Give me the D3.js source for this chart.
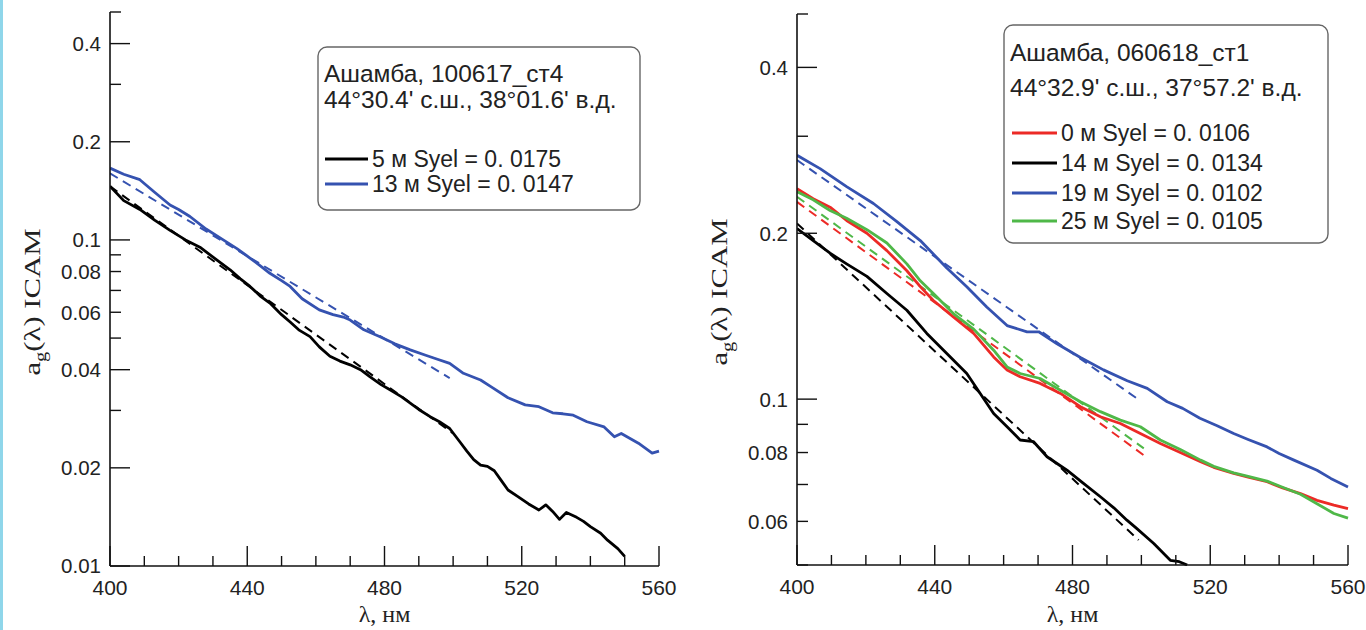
<!DOCTYPE html>
<html>
<head>
<meta charset="utf-8">
<script src="https://cdn.jsdelivr.net/npm/d3@7"></script>
<style>
  body { margin: 0; background: #fff; }
  svg text { font-family: "Liberation Sans", Arial, sans-serif; }
  .serif { font-family: "Liberation Serif", "Times New Roman", serif; }
</style>
</head>
<body>
<svg width="1366" height="630"></svg>
<script>
// --- data: [wavelength nm, a_g] ---
const left5m = [[400,0.146],[404,0.132],[408.7,0.124],[413,0.115],[417.5,0.107],[422,0.1],[426.2,0.095],[431,0.087],[435,0.081],[438,0.076],[440.8,0.072],[444,0.067],[446.6,0.064],[450,0.059],[452.5,0.056],[455,0.053],[458.3,0.0505],[461,0.047],[464.1,0.044],[467,0.0425],[470,0.0414],[473,0.040],[475.8,0.038],[479,0.036],[481.6,0.0347],[485,0.033],[487.5,0.0316],[490,0.0302],[493.3,0.0287],[496,0.0277],[499,0.0264],[502,0.024],[504,0.0225],[506,0.0212],[508,0.0204],[510,0.0202],[512,0.0196],[514,0.0183],[516,0.0171],[519,0.0163],[522,0.0155],[525,0.01485],[527,0.0154],[529,0.0147],[531,0.0139],[533,0.0146],[536,0.0141],[538,0.0137],[540,0.0132],[543,0.0126],[545,0.012],[548,0.0113],[550,0.0107]];
const left13m = [[400,0.166],[404,0.159],[408.7,0.153],[413,0.14],[417.5,0.128],[420,0.124],[423.3,0.118],[428,0.108],[433,0.1],[437,0.094],[440.8,0.088],[444,0.083],[446.6,0.079],[450,0.075],[452.5,0.072],[456,0.066],[461,0.061],[465,0.059],[468,0.058],[470,0.0568],[474,0.053],[478.7,0.0505],[483,0.048],[487.5,0.046],[492,0.0443],[495,0.0432],[499,0.0418],[503,0.039],[508,0.0372],[511,0.0355],[516,0.0328],[521,0.0312],[525,0.0308],[529,0.0295],[532,0.0293],[535,0.029],[539,0.0277],[544,0.0267],[547,0.0249],[549,0.0255],[554,0.0238],[558,0.0222],[560,0.0225]];
const leftFit5m = [[400,0.146],[500,0.0255]];
const leftFit13m = [[400,0.160],[499,0.0377]];

const right0m = [[400,0.241],[404.7,0.231],[409.6,0.223],[414.4,0.211],[420.3,0.200],[426.1,0.186],[431.9,0.171],[435.8,0.160],[439.6,0.151],[445.4,0.141],[451.3,0.1316],[457.1,0.1193],[461,0.1129],[464.8,0.1098],[470.6,0.1068],[476.5,0.1024],[482.3,0.0969],[488.1,0.0929],[493.9,0.0903],[499.7,0.0866],[505.5,0.0831],[511.3,0.0800],[517.2,0.077],[521,0.0752],[526.8,0.0733],[531,0.0722],[536.5,0.0708],[541,0.069],[546.2,0.0674],[551,0.0655],[555.9,0.0642],[560,0.0633]];
const right14m = [[400,0.204],[404.7,0.194],[409.6,0.184],[414.4,0.176],[420.3,0.167],[426.1,0.1555],[431.9,0.145],[437.7,0.1316],[443.5,0.121],[449.3,0.1113],[453.2,0.1024],[457.1,0.0942],[461,0.0891],[464.8,0.0843],[468.7,0.0837],[472.6,0.0786],[478.4,0.0743],[483,0.0705],[488.1,0.0665],[492,0.0635],[495.8,0.0603],[498.7,0.0582],[503.6,0.0547],[508.4,0.051],[511,0.0507],[513.3,0.05]];
const right19m = [[400,0.277],[406.7,0.262],[414.4,0.243],[422.2,0.2265],[429,0.21],[435.8,0.194],[443.5,0.173],[449.3,0.16],[455.1,0.147],[461,0.136],[466.8,0.1325],[470.2,0.1325],[475.5,0.126],[482.3,0.119],[489,0.113],[495.9,0.108],[501.7,0.1046],[507.5,0.0989],[512,0.0962],[517,0.0923],[522,0.0895],[526.8,0.0866],[531,0.0845],[536.5,0.0819],[540,0.0797],[544.3,0.0775],[551,0.0743],[555,0.0718],[560,0.0693]];
const right25m = [[400,0.238],[404.7,0.230],[409.6,0.220],[414.4,0.213],[420.3,0.203],[426.1,0.192],[431.9,0.176],[435.8,0.164],[439.6,0.1555],[445.4,0.143],[451.3,0.134],[457.1,0.1227],[461,0.1144],[464.8,0.1113],[470.6,0.109],[476.5,0.1038],[482.3,0.0989],[488.1,0.0949],[493.9,0.0916],[499.7,0.0891],[505.5,0.0843],[511.3,0.081],[517.2,0.0775],[521,0.0755],[526.8,0.0735],[531,0.0724],[536.5,0.071],[541,0.0692],[546.2,0.0672],[551,0.0646],[555.9,0.062],[560,0.0608]];
const rightFit0m = [[400,0.228],[500.7,0.0791]];
const rightFit14m = [[400,0.2084],[499.2,0.0555]];
const rightFit19m = [[400,0.2716],[498.7,0.1003]];
const rightFit25m = [[400,0.233],[500.7,0.0814]];

const xTickLabels = [400, 440, 480, 520, 560];
const leftYTickLabels = [0.01, 0.02, 0.04, 0.06, 0.08, 0.1, 0.2, 0.4];
const rightYTickLabels = [0.06, 0.08, 0.1, 0.2, 0.4];

const leftTitle = ["Ашамба, 100617_ст4", "44°30.4' с.ш., 38°01.6' в.д."];
const leftLegend = ["5 м Syel = 0. 0175", "13 м Syel = 0. 0147"];
const rightTitle = ["Ашамба, 060618_ст1", "44°32.9' с.ш., 37°57.2' в.д."];
const rightLegend = ["0 м Syel = 0. 0106", "14 м Syel = 0. 0134", "19 м Syel = 0. 0102", "25 м Syel = 0. 0105"];

const BLUE = "#3552b0", RED = "#ec2a26", GREEN = "#4fb848", BLACK = "#000";

const svg = d3.select("svg");
svg.append("rect").attr("width", 1366).attr("height", 630).attr("fill", "#fff");
svg.append("rect").attr("x", 0).attr("y", 0).attr("width", 3).attr("height", 630).attr("fill", "#8fd6ea");

function panel(cfg) {
  const x = d3.scaleLinear().domain([400, 560]).range([cfg.x0, cfg.x1]);
  const y = d3.scaleLog().domain(cfg.yDomain).range([cfg.yBottom, cfg.yTop]);
  const g = svg.append("g");

  // clip
  g.append("clipPath").attr("id", cfg.id)
    .append("rect").attr("x", cfg.x0).attr("y", cfg.yTop - 2)
    .attr("width", cfg.x1 - cfg.x0 + 4).attr("height", cfg.yBottom - cfg.yTop + 3);

  const line = d3.line().x(d => x(d[0])).y(d => y(d[1]));
  const plot = g.append("g").attr("clip-path", `url(#${cfg.id})`);

  cfg.fits.forEach(f => {
    plot.append("path").attr("d", line(f.data)).attr("fill", "none")
      .attr("stroke", f.color).attr("stroke-width", 2).attr("stroke-dasharray", "9,6");
  });
  cfg.series.forEach(s => {
    plot.append("path").attr("d", line(s.data)).attr("fill", "none")
      .attr("stroke", s.color).attr("stroke-width", 2.8).attr("stroke-linejoin", "round");
  });

  // x axis: ticks every 10 nm, pointing inward
  const xt = d3.range(400, 561, 10);
  g.append("line").attr("x1", cfg.x0).attr("x2", cfg.x1)
    .attr("y1", cfg.yBottom).attr("y2", cfg.yBottom).attr("stroke", "#111").attr("stroke-width", 1.6);
  g.selectAll(".xt").data(xt).join("line")
    .attr("x1", d => x(d)).attr("x2", d => x(d))
    .attr("y1", cfg.yBottom).attr("y2", d => cfg.yBottom - (xTickLabels.includes(d) ? 20 : 10))
    .attr("stroke", "#111").attr("stroke-width", 1.4);
  g.selectAll(".xl").data(xTickLabels).join("text")
    .attr("x", d => x(d)).attr("y", cfg.yBottom + 29)
    .attr("text-anchor", "middle").attr("font-size", 21).attr("fill", "#222")
    .text(d => d);

  // y axis: log ticks 1..9 per decade
  const yt = y.ticks().filter(v => v >= cfg.yDomain[0] * 0.999 && v <= cfg.yDomain[1] * 1.001);
  const isLong = v => cfg.longTicks.some(t => Math.abs(t - v) < 1e-9);
  g.append("line").attr("x1", cfg.x0).attr("x2", cfg.x0)
    .attr("y1", cfg.yTop).attr("y2", cfg.yBottom).attr("stroke", "#111").attr("stroke-width", 1.6);
  g.selectAll(".yt").data(yt).join("line")
    .attr("x1", cfg.x0).attr("x2", d => cfg.x0 + (isLong(d) ? 20 : 11))
    .attr("y1", d => y(d)).attr("y2", d => y(d))
    .attr("stroke", "#111").attr("stroke-width", 1.4);
  g.selectAll(".yl").data(cfg.yLabels).join("text")
    .attr("x", cfg.x0 - 9).attr("y", d => y(d)).attr("dy", "0.36em")
    .attr("text-anchor", "end").attr("font-size", 20.5).attr("fill", "#222")
    .text(d => d);

  // axis titles
  g.append("text").attr("class", "serif")
    .attr("x", (cfg.x0 + cfg.x1) / 2).attr("y", 622)
    .attr("text-anchor", "middle").attr("font-size", 24).attr("fill", "#222")
    .text("λ, нм");
  const yl = g.append("text").attr("class", "serif")
    .attr("transform", `translate(${cfg.yTitleX},${cfg.yTitleY}) rotate(-90) scale(1.28,1)`)
    .attr("text-anchor", "middle").attr("font-size", 24).attr("fill", "#222");
  yl.append("tspan").text("a");
  yl.append("tspan").attr("font-size", 16).attr("dy", 6).text("g");
  yl.append("tspan").attr("dy", -6).text("(λ) ICAM");

  // legend box
  const L = cfg.legend;
  g.append("rect").attr("x", L.x).attr("y", L.y).attr("width", L.w).attr("height", L.h)
    .attr("rx", 9).attr("fill", "#fff").attr("stroke", "#666").attr("stroke-width", 1.4);
  L.title.forEach((t, i) => {
    g.append("text").attr("x", L.x + 6).attr("y", L.titleY[i]).attr("dy", "0.36em")
      .attr("font-size", L.titleFs).attr("fill", "#222").text(t);
  });
  L.items.forEach((t, i) => {
    const yy = L.itemY[i];
    g.append("line").attr("x1", L.lx0).attr("x2", L.lx1).attr("y1", yy).attr("y2", yy)
      .attr("stroke", L.colors[i]).attr("stroke-width", 2.8);
    g.append("text").attr("x", L.lx1 + 4).attr("y", yy).attr("dy", "0.36em")
      .attr("font-size", L.fs).attr("fill", "#222").text(t);
  });
}

panel({
  id: "clipL", x0: 110, x1: 659, yTop: 12, yBottom: 566, yDomain: [0.01, 0.5],
  yLabels: leftYTickLabels, longTicks: [0.01, 0.02, 0.04, 0.1, 0.2, 0.4],
  yTitleX: 40, yTitleY: 302,
  series: [{ data: left13m, color: BLUE }, { data: left5m, color: BLACK }],
  fits: [{ data: leftFit13m, color: BLUE }, { data: leftFit5m, color: BLACK }],
  legend: {
    x: 318, y: 47, w: 322, h: 163, fs: 23, titleFs: 24.5,
    title: leftTitle, titleY: [73, 99],
    items: leftLegend, itemY: [159, 184], colors: [BLACK, BLUE],
    lx0: 325, lx1: 368
  }
});

panel({
  id: "clipR", x0: 797, x1: 1348, yTop: 14, yBottom: 565, yDomain: [0.05, 0.5],
  yLabels: rightYTickLabels, longTicks: [0.1, 0.2, 0.4],
  yTitleX: 727, yTitleY: 292,
  series: [{ data: right19m, color: BLUE }, { data: right14m, color: BLACK },
           { data: right0m, color: RED }, { data: right25m, color: GREEN }],
  fits: [{ data: rightFit19m, color: BLUE }, { data: rightFit14m, color: BLACK },
         { data: rightFit0m, color: RED }, { data: rightFit25m, color: GREEN }],
  legend: {
    x: 1004, y: 25, w: 324, h: 218, fs: 23, titleFs: 24.5,
    title: rightTitle, titleY: [52, 87],
    items: rightLegend, itemY: [133, 163, 193, 221], colors: [RED, BLACK, BLUE, GREEN],
    lx0: 1012, lx1: 1057
  }
});
</script>
</body>
</html>
